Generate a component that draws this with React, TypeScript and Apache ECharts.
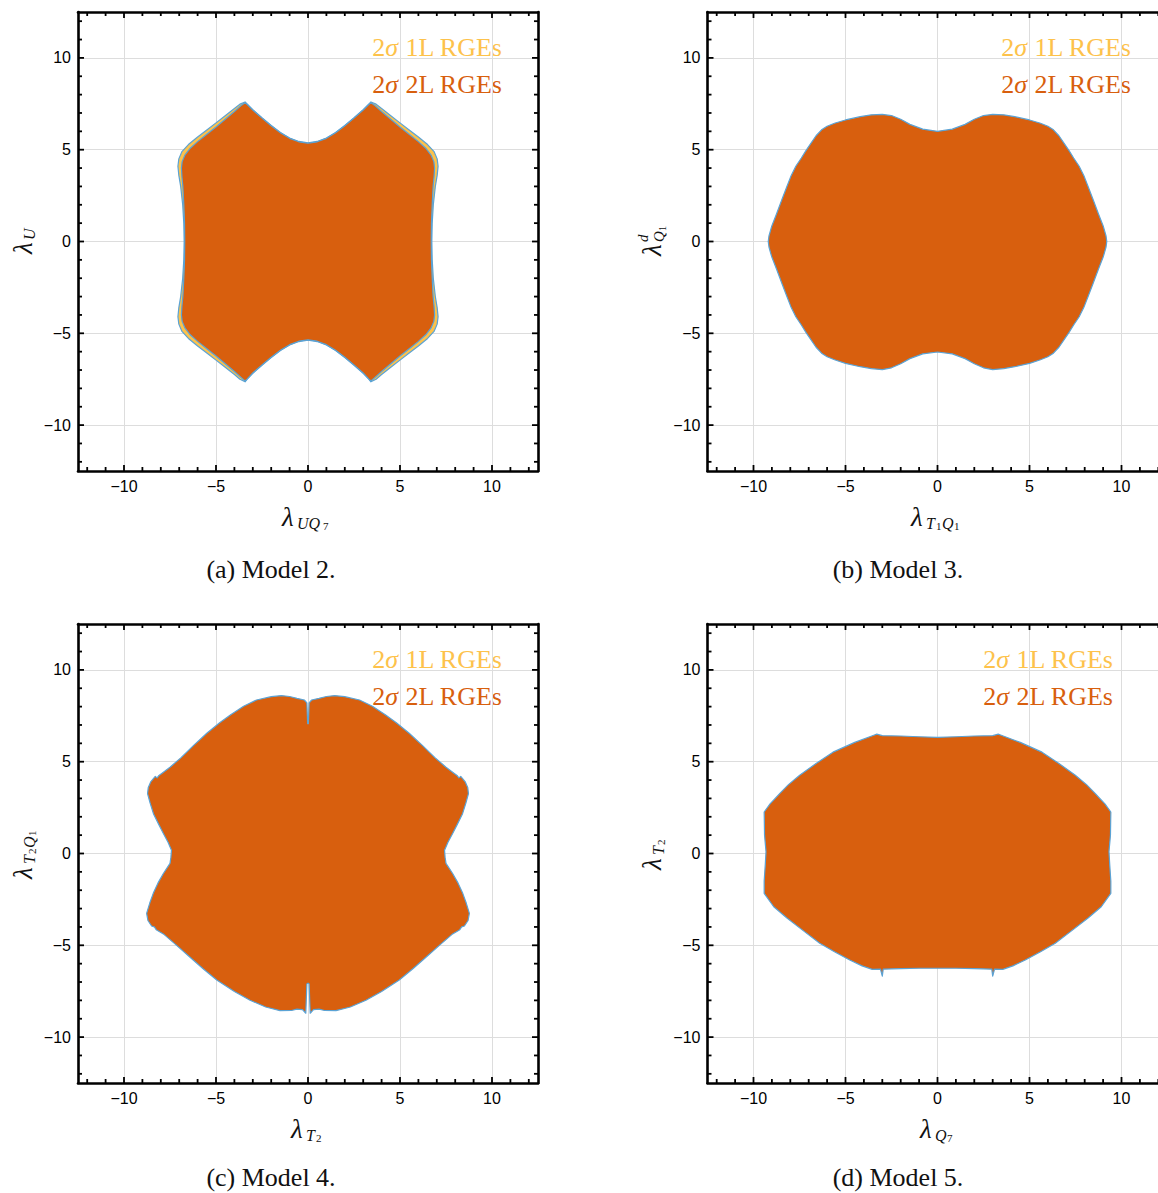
import React, { useEffect, useRef } from "react";
import * as echarts from "echarts";

// ---------- axis configuration ----------
const AXIS_MIN = -12.5;
const AXIS_MAX = 12.5;
const TICK_VALUES = [-12, -11, -10, -9, -8, -7, -6, -5, -4, -3, -2, -1, 0, 1, 2, 3, 4, 5, 6, 7, 8, 9, 10, 11, 12];

// ---------- region boundaries (right halves, top -> bottom; regions are mirror-symmetric in x) ----------
// Model 2, 2-loop RGEs
const M2_2L_RIGHT = [
  [0, 5.35], [0.5, 5.43], [1.0, 5.62], [1.5, 5.92], [2.0, 6.3], [2.5, 6.72], [3.0, 7.16], [3.3, 7.46], [3.42, 7.56],
  [3.6, 7.44], [4.0, 7.08], [4.5, 6.66], [5.0, 6.24], [5.5, 5.84], [6.0, 5.44], [6.4, 5.08], [6.68, 4.72], [6.84, 4.35],
  [6.88, 4.0], [6.85, 3.5], [6.8, 3.0], [6.75, 2.0], [6.71, 1.0], [6.7, 0], [6.71, -1.0], [6.75, -2.0], [6.8, -3.0],
  [6.85, -3.5], [6.88, -4.0], [6.84, -4.35], [6.68, -4.72], [6.4, -5.08], [6.0, -5.44], [5.5, -5.84], [5.0, -6.24],
  [4.5, -6.66], [4.0, -7.08], [3.6, -7.44], [3.42, -7.6], [3.3, -7.48], [3.0, -7.16], [2.5, -6.72], [2.0, -6.3],
  [1.5, -5.92], [1.0, -5.62], [0.5, -5.43], [0, -5.35],
];
// Model 2, 1-loop RGEs
const M2_1L_RIGHT = [
  [0, 5.37], [0.5, 5.45], [1.0, 5.64], [1.5, 5.94], [2.0, 6.32], [2.5, 6.74], [3.0, 7.18], [3.3, 7.48], [3.42, 7.6],
  [3.7, 7.48], [4.0, 7.24], [4.5, 6.85], [5.0, 6.46], [5.5, 6.07], [6.0, 5.69], [6.5, 5.28], [6.85, 4.9], [7.02, 4.5],
  [7.07, 4.1], [7.02, 3.6], [6.92, 3.0], [6.81, 2.0], [6.75, 1.0], [6.73, 0], [6.75, -1.0], [6.81, -2.0], [6.92, -3.0],
  [7.02, -3.6], [7.07, -4.1], [7.02, -4.5], [6.85, -4.9], [6.5, -5.28], [6.0, -5.69], [5.5, -6.07], [5.0, -6.46],
  [4.5, -6.85], [4.0, -7.24], [3.7, -7.5], [3.42, -7.64], [3.3, -7.5], [3.0, -7.18], [2.5, -6.74], [2.0, -6.32],
  [1.5, -5.94], [1.0, -5.64], [0.5, -5.45], [0, -5.37],
];
// Model 3, 2-loop RGEs
const M3_2L_RIGHT = [
  [0, 6.0], [0.8, 6.12], [1.5, 6.38], [2.0, 6.66], [2.5, 6.86], [3.0, 6.92], [3.6, 6.9], [4.2, 6.8], [5.0, 6.62],
  [5.6, 6.44], [6.0, 6.28], [6.3, 6.08], [6.6, 5.76], [6.9, 5.32], [7.15, 4.95], [7.4, 4.55], [7.7, 4.1],
  [7.95, 3.6], [8.2, 2.95], [8.45, 2.3], [8.75, 1.5], [9.02, 0.8], [9.16, 0.3], [9.2, 0],
  [9.16, -0.3], [9.02, -0.8], [8.75, -1.5], [8.45, -2.3], [8.2, -2.95], [7.95, -3.6], [7.7, -4.1], [7.4, -4.55],
  [7.15, -4.95], [6.9, -5.32], [6.6, -5.76], [6.3, -6.08], [6.0, -6.28], [5.6, -6.44], [5.0, -6.64], [4.2, -6.82],
  [3.6, -6.92], [3.0, -6.98], [2.5, -6.88], [2.0, -6.66], [1.5, -6.38], [0.8, -6.12], [0, -6.02],
];
// Model 4, 2-loop RGEs
const M4_2L_RIGHT = [
  [0.02, 7.07], [0.06, 8.2], [0.2, 8.36], [0.6, 8.45], [1.0, 8.55], [1.45, 8.6], [2.0, 8.54], [2.8, 8.36], [3.5, 8.02],
  [4.2, 7.56], [4.8, 7.12], [5.5, 6.55], [6.2, 5.9], [6.9, 5.22], [7.5, 4.7], [7.95, 4.36], [8.1, 4.25], [8.2, 4.12],
  [8.3, 4.2], [8.55, 3.9], [8.68, 3.6], [8.72, 3.26], [8.58, 2.75], [8.4, 2.17], [8.12, 1.6], [7.86, 1.09],
  [7.6, 0.6], [7.42, 0.18], [7.45, -0.2], [7.5, -0.54], [7.86, -1.09], [8.15, -1.6], [8.41, -2.17], [8.6, -2.7],
  [8.77, -3.26], [8.7, -3.65], [8.5, -3.95], [8.35, -4.0], [8.25, -4.15], [7.86, -4.38], [7.2, -4.95],
  [6.41, -5.65], [5.7, -6.28], [4.96, -6.89], [4.0, -7.52], [3.15, -7.99], [2.3, -8.36], [1.52, -8.56],
  [0.9, -8.55], [0.6, -8.48], [0.3, -8.5], [0.12, -8.7], [0.06, -7.1], [0.02, -7.07],
];
// Model 5, 2-loop RGEs
const M5_2L_RIGHT = [
  [0, 6.33], [1.0, 6.36], [2.0, 6.4], [3.0, 6.42], [3.3, 6.5], [3.5, 6.43], [4.5, 6.05], [5.68, 5.52], [6.6, 4.9],
  [7.49, 4.26], [8.1, 3.75], [8.58, 3.26], [9.1, 2.7], [9.42, 2.26], [9.4, 1.0], [9.32, 0.1], [9.36, -0.6],
  [9.42, -1.5], [9.42, -2.17], [8.9, -2.9], [8.2, -3.5], [7.3, -4.2], [6.4, -4.89], [5.6, -5.35], [4.77, -5.8],
  [4.1, -6.12], [3.55, -6.31], [3.1, -6.3], [3.0, -6.68], [2.95, -6.3], [2.0, -6.27], [1.0, -6.25], [0, -6.25],
];

// ---------- texts ----------
const CAPTIONS = ["(a) Model 2.", "(b) Model 3.", "(c) Model 4.", "(d) Model 5."];
const LEGEND_1L = ["2", "σ", " 1L RGEs"];
const LEGEND_2L = ["2", "σ", " 2L RGEs"];

const ORANGE = "#D85F0E";
const YELLOW = "#FDC24B";
const EDGE = "#5BA3D5";
const SERIF = "'Liberation Serif', 'DejaVu Serif', serif";
const SANS = "'Liberation Sans', Arial, sans-serif";

function mirrorClose(right: number[][]): number[][] {
  const left = right
    .slice()
    .reverse()
    .map(([u, v]) => [-u, v]);
  return right.concat(left);
}

type Part = { t: string; dx: number; dy: number; s: number; up?: boolean };

const PANELS = [
  {
    left: 78, top: 12,
    shapes: [
      { pts: mirrorClose(M2_1L_RIGHT), fill: YELLOW },
      { pts: mirrorClose(M2_2L_RIGHT), fill: ORANGE },
    ],
    legendRight: 502, legendY1: 47, legendY2: 84,
    caption: CAPTIONS[0], captionX: 271, captionY: 569,
    xTitle: { cx: 308, cy: 517, parts: [
      { t: "λ", dx: -26, dy: 0, s: 27 }, { t: "UQ", dx: -11, dy: 6, s: 16 }, { t: "7", dx: 15, dy: 9, s: 11, up: true },
    ] as Part[] },
    yTitle: { cx: 23, cy: 241, parts: [
      { t: "λ", dx: -13, dy: 0, s: 27 }, { t: "U", dx: 1, dy: 6, s: 16 },
    ] as Part[] },
  },
  {
    left: 707.5, top: 12,
    shapes: [{ pts: mirrorClose(M3_2L_RIGHT), fill: ORANGE }],
    legendRight: 1131, legendY1: 47, legendY2: 84,
    caption: CAPTIONS[1], captionX: 898, captionY: 569,
    xTitle: { cx: 937, cy: 517, parts: [
      { t: "λ", dx: -26, dy: 0, s: 27 }, { t: "T", dx: -11, dy: 6, s: 16 }, { t: "1", dx: -1, dy: 9, s: 11, up: true },
      { t: "Q", dx: 5, dy: 6, s: 16 }, { t: "1", dx: 17, dy: 9, s: 11, up: true },
    ] as Part[] },
    yTitle: { cx: 652, cy: 241, parts: [
      { t: "λ", dx: -15, dy: 0, s: 27 }, { t: "d", dx: -1, dy: -9, s: 15 }, { t: "Q", dx: -1, dy: 7, s: 15 },
      { t: "1", dx: 10, dy: 10, s: 10, up: true },
    ] as Part[] },
  },
  {
    left: 78, top: 624,
    shapes: [{ pts: mirrorClose(M4_2L_RIGHT), fill: ORANGE }],
    legendRight: 502, legendY1: 659, legendY2: 696,
    caption: CAPTIONS[2], captionX: 271, captionY: 1177,
    xTitle: { cx: 308, cy: 1129, parts: [
      { t: "λ", dx: -17, dy: 0, s: 27 }, { t: "T", dx: -2, dy: 6, s: 16 }, { t: "2", dx: 8, dy: 9, s: 11, up: true },
    ] as Part[] },
    yTitle: { cx: 23, cy: 853, parts: [
      { t: "λ", dx: -26, dy: 0, s: 27 }, { t: "T", dx: -11, dy: 6, s: 16 }, { t: "2", dx: -1, dy: 9, s: 11, up: true },
      { t: "Q", dx: 5, dy: 6, s: 16 }, { t: "1", dx: 17, dy: 9, s: 11, up: true },
    ] as Part[] },
  },
  {
    left: 707.5, top: 624,
    shapes: [{ pts: mirrorClose(M5_2L_RIGHT), fill: ORANGE }],
    legendRight: 1113, legendY1: 659, legendY2: 696,
    caption: CAPTIONS[3], captionX: 898, captionY: 1177,
    xTitle: { cx: 937, cy: 1129, parts: [
      { t: "λ", dx: -17, dy: 0, s: 27 }, { t: "Q", dx: -2, dy: 6, s: 16 }, { t: "7", dx: 10, dy: 9, s: 11, up: true },
    ] as Part[] },
    yTitle: { cx: 652, cy: 853, parts: [
      { t: "λ", dx: -17, dy: 0, s: 27 }, { t: "T", dx: -2, dy: 6, s: 16 }, { t: "2", dx: 8, dy: 9, s: 11, up: true },
    ] as Part[] },
  },
];

const GRID_W = 460;
const GRID_H = 459;
const CANVAS_W = 1190;
const CANVAS_H = 1193;

function fmt(v: number): string {
  if (Math.abs(v % 5) > 1e-9) return "";
  if (v < 0) return "\u2212" + Math.abs(v);
  return String(v);
}

function mathLabel(cx: number, cy: number, rotation: number, parts: Part[]) {
  return {
    type: "group",
    x: cx,
    y: cy,
    rotation,
    children: parts.map((p) => ({
      type: "text",
      x: p.dx,
      y: p.dy,
      style: {
        text: p.t,
        fontFamily: SERIF,
        fontStyle: p.up ? "normal" : "italic",
        fontSize: p.s,
        fill: "#111",
        align: "left",
        verticalAlign: "middle",
      },
    })),
  };
}

function legendText(right: number, y: number, parts: string[], color: string) {
  return {
    type: "text",
    x: right,
    y,
    style: {
      text: `{n|${parts[0]}}{i|${parts[1]}}{n|${parts[2]}}`,
      align: "right",
      verticalAlign: "middle",
      fill: color,
      fontSize: 26,
      fontFamily: SERIF,
      rich: {
        n: { fill: color, fontSize: 26, fontFamily: SERIF },
        i: { fill: color, fontSize: 26, fontFamily: SERIF, fontStyle: "italic" },
      },
    },
  };
}

export default function App() {
  const ref = useRef<HTMLDivElement>(null);

  useEffect(() => {
    if (!ref.current) return;
    const chart = echarts.init(ref.current, null, { renderer: "svg" });

    const grids: any[] = [];
    const xAxes: any[] = [];
    const yAxes: any[] = [];
    const series: any[] = [];
    const graphics: any[] = [];

    PANELS.forEach((p, i) => {
      grids.push({ left: p.left, top: p.top, width: GRID_W, height: GRID_H, containLabel: false });
      const frameLine = { show: true, onZero: false, lineStyle: { color: "#000", width: 2.6 } };
      xAxes.push({
        type: "value", gridIndex: i, position: "bottom", min: AXIS_MIN, max: AXIS_MAX, splitNumber: 5,
        axisLine: frameLine, axisTick: { show: false },
        axisLabel: { show: true, formatter: fmt, color: "#000", fontFamily: SANS, fontSize: 16, margin: 7, showMinLabel: false, showMaxLabel: false },
        splitLine: { show: true, lineStyle: { color: "#dddddd", width: 1 } },
      });
      xAxes.push({
        type: "value", gridIndex: i, position: "top", min: AXIS_MIN, max: AXIS_MAX, splitNumber: 5,
        axisLine: frameLine, axisTick: { show: false }, axisLabel: { show: false }, splitLine: { show: false },
      });
      yAxes.push({
        type: "value", gridIndex: i, position: "left", min: AXIS_MIN, max: AXIS_MAX, splitNumber: 5,
        axisLine: frameLine, axisTick: { show: false },
        axisLabel: { show: true, formatter: fmt, color: "#000", fontFamily: SANS, fontSize: 16, margin: 7, showMinLabel: false, showMaxLabel: false },
        splitLine: { show: true, lineStyle: { color: "#dddddd", width: 1 } },
      });
      yAxes.push({
        type: "value", gridIndex: i, position: "right", min: AXIS_MIN, max: AXIS_MAX, splitNumber: 5,
        axisLine: frameLine, axisTick: { show: false }, axisLabel: { show: false }, splitLine: { show: false },
      });

      p.shapes.forEach((sh, k) => {
        const pts = sh.pts;
        series.push({
          type: "custom",
          name: `panel${i}-shape${k}`,
          xAxisIndex: 2 * i,
          yAxisIndex: 2 * i,
          z: 2 + k,
          clip: true,
          silent: true,
          data: pts,
          encode: { x: 0, y: 1 },
          renderItem: (params: any, api: any) => {
            if (params.dataIndex !== 0) return null;
            const points = pts.map((pt) => api.coord(pt));
            return {
              type: "polygon",
              shape: { points },
              style: { fill: sh.fill, stroke: EDGE, lineWidth: 1.2, lineJoin: "round" },
            };
          },
        });
      });

      // frame ticks (inward, on all four sides)
      series.push({
        type: "custom",
        name: `panel${i}-ticks`,
        xAxisIndex: 2 * i,
        yAxisIndex: 2 * i,
        z: 10,
        clip: false,
        silent: true,
        data: TICK_VALUES.map((t) => [t, 0]),
        encode: { x: 0, y: 1 },
        renderItem: (params: any, api: any) => {
          const t = TICK_VALUES[params.dataIndex];
          const len = t % 5 === 0 ? 6 : 4;
          const b = api.coord([t, AXIS_MIN]);
          const tp = api.coord([t, AXIS_MAX]);
          const l = api.coord([AXIS_MIN, t]);
          const r = api.coord([AXIS_MAX, t]);
          const style = { stroke: "#000", lineWidth: 1.8 };
          return {
            type: "group",
            children: [
              { type: "line", shape: { x1: b[0], y1: b[1], x2: b[0], y2: b[1] - len }, style },
              { type: "line", shape: { x1: tp[0], y1: tp[1], x2: tp[0], y2: tp[1] + len }, style },
              { type: "line", shape: { x1: l[0], y1: l[1], x2: l[0] + len, y2: l[1] }, style },
              { type: "line", shape: { x1: r[0], y1: r[1], x2: r[0] - len, y2: r[1] }, style },
            ],
          };
        },
      });

      graphics.push(legendText(p.legendRight, p.legendY1, LEGEND_1L, YELLOW));
      graphics.push(legendText(p.legendRight, p.legendY2, LEGEND_2L, ORANGE));
      graphics.push({
        type: "text",
        x: p.captionX,
        y: p.captionY,
        style: { text: p.caption, fontFamily: SERIF, fontSize: 26, fill: "#111", align: "center", verticalAlign: "middle" },
      });
      graphics.push(mathLabel(p.xTitle.cx, p.xTitle.cy, 0, p.xTitle.parts));
      graphics.push(mathLabel(p.yTitle.cx, p.yTitle.cy, Math.PI / 2, p.yTitle.parts));
    });

    chart.setOption({
      animation: false,
      backgroundColor: "#ffffff",
      grid: grids,
      xAxis: xAxes,
      yAxis: yAxes,
      series,
      graphic: graphics,
    });

    return () => chart.dispose();
  }, []);

  return (
    <div style={{ position: "absolute", left: 0, top: 0, width: 1158, height: 1193, overflow: "hidden" }}>
      <div ref={ref} style={{ width: CANVAS_W, height: CANVAS_H }} />
    </div>
  );
}
